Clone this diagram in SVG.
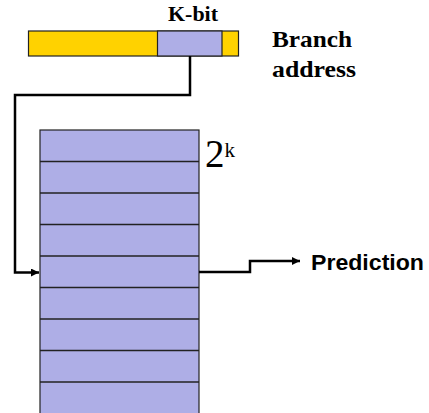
<svg xmlns="http://www.w3.org/2000/svg" width="429" height="413" viewBox="0 0 429 413">
<defs>
<style>
.yel{fill:#FFD200;stroke:#222;stroke-width:1.2}
.blu{fill:#AEAEE6;stroke:#222;stroke-width:1.2}
.row{stroke:#222;stroke-width:1.6}
.wire{fill:none;stroke:#000;stroke-width:2.5;stroke-linejoin:miter}
.tb{font-family:"Liberation Serif","DejaVu Serif",serif;font-weight:bold;fill:#000}
.tr{font-family:"Liberation Serif","DejaVu Serif",serif;fill:#000}
.sb{font-family:"Liberation Sans",Arial,sans-serif;font-weight:bold;fill:#000}
</style>
<marker id="arr" viewBox="0 0 10 10" refX="10" refY="5" markerWidth="3.6" markerHeight="3.2" markerUnits="strokeWidth" orient="auto">
<path d="M0,0 L10,5 L0,10 Z" fill="#000"/>
</marker>
</defs>
<g id="branch-address">
<rect class="yel" x="28.5" y="31" width="210" height="25"/>
<rect class="blu" x="157.5" y="31" width="64.5" height="25"/>
<text class="tb" x="168" y="21" font-size="20" textLength="50" lengthAdjust="spacingAndGlyphs">K-bit</text>
<text class="tb" x="272" y="47" font-size="24" textLength="80" lengthAdjust="spacingAndGlyphs">Branch</text>
<text class="tb" x="272" y="77" font-size="24" textLength="84" lengthAdjust="spacingAndGlyphs">address</text>
</g>
<g id="table">
<rect class="blu" x="40" y="130" width="159" height="295"/>
<line class="row" x1="40" y1="161.5" x2="199" y2="161.5"/>
<line class="row" x1="40" y1="193" x2="199" y2="193"/>
<line class="row" x1="40" y1="224.5" x2="199" y2="224.5"/>
<line class="row" x1="40" y1="256" x2="199" y2="256"/>
<line class="row" x1="40" y1="287.5" x2="199" y2="287.5"/>
<line class="row" x1="40" y1="319" x2="199" y2="319"/>
<line class="row" x1="40" y1="350.5" x2="199" y2="350.5"/>
<line class="row" x1="40" y1="382" x2="199" y2="382"/>
<text class="tr" x="205" y="166.5" font-size="39">2<tspan font-size="21" dy="-10">k</tspan></text>
</g>
<g id="prediction">
<text class="sb" x="311" y="270" font-size="21.5" textLength="113" lengthAdjust="spacingAndGlyphs">Prediction</text>
</g>
<g id="connectors">
<path class="wire" d="M190,56 V95 H15 V272.5 H39" marker-end="url(#arr)"/>
<path class="wire" d="M199,272 H250 V261 H300" marker-end="url(#arr)"/>
</g>
</svg>
